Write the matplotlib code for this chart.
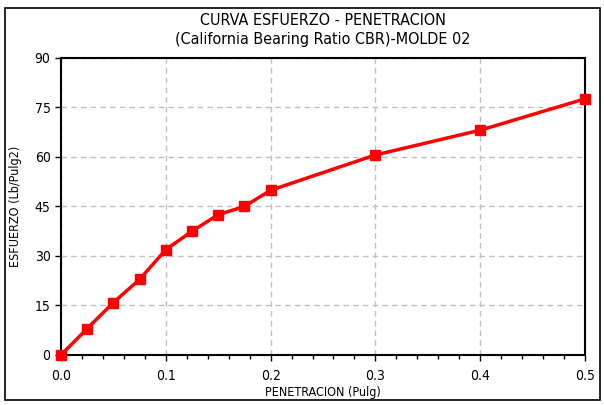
import matplotlib.pyplot as plt
from matplotlib.patches import Rectangle
from matplotlib.ticker import MultipleLocator

# penetracion (pulg) vs esfuerzo (lb/pulg2)
penetracion = [0.0, 0.025, 0.05, 0.075, 0.1, 0.125, 0.15, 0.175, 0.2, 0.3, 0.4, 0.5]
esfuerzo = [0.0, 8.0, 15.9, 22.9, 31.9, 37.5, 42.5, 45.0, 49.9, 60.6, 68.1, 77.6]

plt.rcParams['font.family'] = ['Liberation Sans Narrow', 'DejaVu Sans']
plt.rcParams['font.stretch'] = 'condensed'

fig = plt.figure(figsize=(6.04, 4.05), dpi=100)
ax = fig.add_axes([0.101, 0.1235, 0.8675, 0.7335])

# marco exterior del grafico
fig.patches.append(Rectangle((0.008, 0.012), 0.985, 0.968, transform=fig.transFigure,
                             fill=False, edgecolor='black', linewidth=1.2))

ax.plot(penetracion, esfuerzo, color='#ff0000', linewidth=2.5,
        marker='s', markersize=7, markerfacecolor='#ff0000', markeredgecolor='#ff0000',
        clip_on=False, zorder=3)

ax.set_xlim(0, 0.5)
ax.set_ylim(0, 90)
ax.xaxis.set_major_locator(MultipleLocator(0.1))
ax.xaxis.set_minor_locator(MultipleLocator(0.02))
ax.yaxis.set_major_locator(MultipleLocator(15))
ax.xaxis.set_major_formatter(plt.FuncFormatter(lambda v, p: f'{v:.1f}'))

ax.grid(True, which='major', color='#c0c0c0', linestyle=(0, (4, 3)), linewidth=1)
for s in ax.spines.values():
    s.set_linewidth(1.5)
ax.tick_params(which='major', direction='out', length=4, width=1, labelsize=10)
ax.tick_params(which='minor', direction='out', length=3, width=1)
ax.tick_params(axis='x', pad=6)

ax.set_xlabel('PENETRACION (Pulg)', fontsize=9, labelpad=2)
ax.set_ylabel('ESFUERZO (Lb/Pulg2)', fontsize=9, labelpad=9)
ax.set_title('CURVA ESFUERZO - PENETRACION\n(California Bearing Ratio CBR)-MOLDE 02',
             fontsize=11.5, linespacing=1.3, pad=10)

fig.savefig('out.png', dpi=100)
